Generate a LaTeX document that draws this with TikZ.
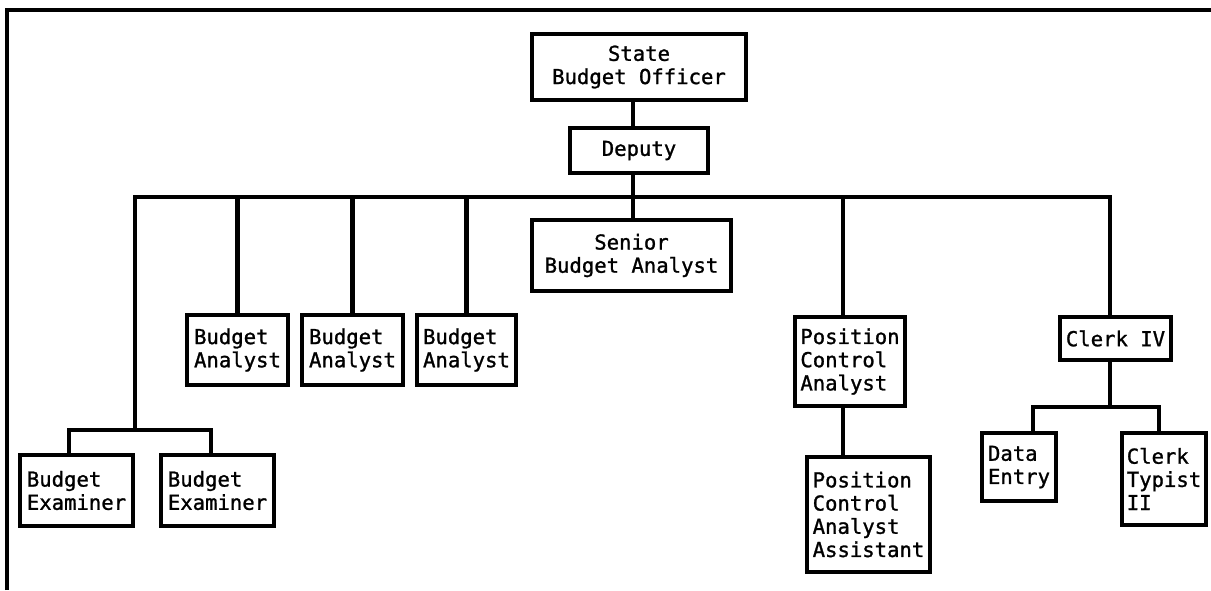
\documentclass[tikz,border=0pt]{standalone}
\usepackage{fontspec}
\newfontfamily\tw{DejaVu Sans Mono}[FakeBold=1.2]
\begin{document}
\begin{tikzpicture}[x=0.5pt,y=-0.5pt,
  box/.style={draw, line width=2.2pt, inner sep=0pt, align=left,
    font=\tw\fontsize{10.3}{11.6}\selectfont},
  cbox/.style={box, align=center},
  conn/.style={line width=2.2pt, line join=miter, line cap=rect}]
\useasboundingbox (0,0) rectangle (1211,590);
% frame
\draw[line width=2.2pt] (7,590) -- (7,10) -- (1211,10);
% nodes
\node[cbox, minimum width=107pt, minimum height=33pt] (sbo) at (639,67) {State\\Budget Officer};
\node[cbox, minimum width=69pt, minimum height=22.5pt] (dep) at (639,150.5) {Deputy};
\node[cbox, minimum width=99.5pt, minimum height=35.5pt] (sba) at (631.5,255.5) {Senior\\Budget Analyst};
\node[box, minimum width=50.5pt, minimum height=35pt] (ba1) at (237.5,350) {Budget\\Analyst};
\node[box, minimum width=50.5pt, minimum height=35pt] (ba2) at (352.5,350) {Budget\\Analyst};
\node[box, minimum width=49.5pt, minimum height=35pt] (ba3) at (466.5,350) {Budget\\Analyst};
\node[box, minimum width=56.5pt, minimum height=35.5pt] (be1) at (76.5,490.5) {Budget\\Examiner};
\node[box, minimum width=56.5pt, minimum height=35.5pt] (be2) at (217.5,490.5) {Budget\\Examiner};
\node[box, minimum width=55pt, minimum height=44.5pt] (pca) at (850,361.5) {Position\\Control\\Analyst};
\node[box, minimum width=61.5pt, minimum height=57.5pt] (pcaa) at (868.5,514.5) {Position\\Control\\Analyst\\Assistant};
\node[box, minimum width=55.5pt, minimum height=21.5pt] (ck4) at (1115.5,338.5) {Clerk IV};
\node[box, minimum width=37pt, minimum height=34pt] (de) at (1019,467) {Data\\Entry};
\node[box, minimum width=42pt, minimum height=46pt] (ct2) at (1164,479) {Clerk\\Typist\\II};
% junction coordinates
\coordinate (J) at (633,197);
\coordinate (BL) at (135,197);
\coordinate (BR) at (1110,197);
\coordinate (EB) at (135,430);
\coordinate (EL) at (69,430);
\coordinate (ER) at (211,430);
\coordinate (P) at (843,197);
\coordinate (CB) at (1110,407);
\coordinate (CL) at (1033,407);
\coordinate (CR) at (1159,407);
% connectors
\draw[conn] (sbo.south -| J) -- (dep.north -| J);
\draw[conn] (dep.south -| J) -- (sba.north -| J);
\draw[conn] (EB) -- (BL) -- (BR) -- (ck4.north -| BR);
\draw[conn] (be1.north -| EL) -- (EL) -- (ER) -- (be2.north -| ER);
\draw[conn] (ba1.north |- BL) -- (ba1.north);
\draw[conn] (ba2.north |- BL) -- (ba2.north);
\draw[conn] (ba3.north |- BL) -- (ba3.north);
\draw[conn] (P) -- (pca.north -| P);
\draw[conn] (pca.south -| P) -- (pcaa.north -| P);
\draw[conn] (ck4.south -| CB) -- (CB);
\draw[conn] (de.north -| CL) -- (CL) -- (CR) -- (ct2.north -| CR);
\end{tikzpicture}
\end{document}
